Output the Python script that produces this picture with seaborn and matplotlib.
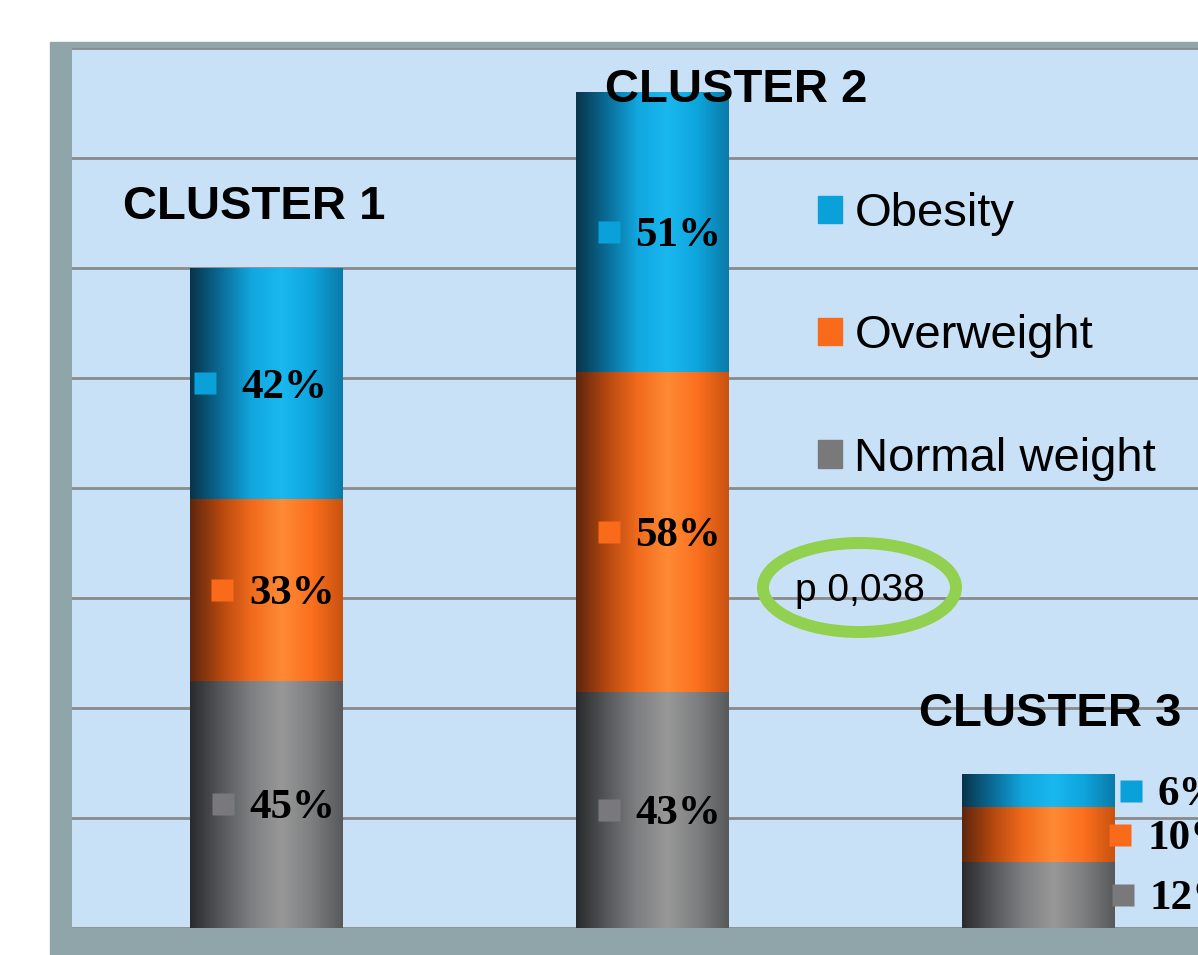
import numpy as np
import seaborn as sns
import matplotlib.pyplot as plt
from matplotlib.colors import LinearSegmentedColormap
from matplotlib.patches import Patch, Ellipse, Rectangle
from matplotlib.transforms import offset_copy

clusters = ["CLUSTER 1", "CLUSTER 2", "CLUSTER 3"]
categories = ["Normal weight", "Overweight", "Obesity"]
normal = [45, 43, 12]
overweight = [33, 58, 10]
obesity = [42, 51, 6]
p_text = "p 0,038"

solid = {"Obesity": "#0AA0DA", "Overweight": "#F96A1B", "Normal weight": "#79797B"}
ramps = {
    "Obesity": ["#08344A", "#0A6C97", "#11A6DE", "#1AB8F0", "#0EA4DC", "#0A7AA8"],
    "Overweight": ["#5E260E", "#B4480F", "#F06A1C", "#FF8A35", "#FB6F1E", "#C8520F"],
    "Normal weight": ["#2A2A2C", "#55575A", "#7E7F81", "#989898", "#7D7E80", "#58595B"],
}

sns.set_style("white")
plt.rcParams["text.color"] = "black"
fig = plt.figure(figsize=(11.98, 9.55), dpi=100)
fig.patch.set_facecolor("white")
W, H = 1198, 955
fig.add_artist(Rectangle((50 / W, 0), 1 - 50 / W, (H - 42) / H, transform=fig.transFigure,
                         color="#90A5AA", zorder=0))
ax = fig.add_axes([72 / W, (H - 928) / H, (W - 72) / W, (928 - 48) / H])
ax.set_facecolor("#C8E1F6")

# stacked bars: draw cumulative totals, tallest first
layers = [("Obesity", np.array(normal) + np.array(overweight) + np.array(obesity)),
          ("Overweight", np.array(normal) + np.array(overweight)),
          ("Normal weight", np.array(normal))]
grad = np.linspace(0, 1, 256).reshape(1, -1)
z = 2
for name, tops in layers:
    n0 = len(ax.patches)
    sns.barplot(x=clusters, y=tops, color=solid[name], width=0.396, saturation=1,
                errorbar=None, ax=ax, zorder=z, linewidth=0, edgecolor="none")
    cmap = LinearSegmentedColormap.from_list(name, ramps[name])
    for p in ax.patches[n0:]:
        x0, w, h = p.get_x(), p.get_width(), p.get_height()
        im = ax.imshow(grad, extent=(x0, x0 + w, 0, h), aspect="auto", cmap=cmap,
                       zorder=z + 0.5, interpolation="bilinear")
        im.set_clip_path(p)
    z += 1

ax.set_xlim(-0.504, 2.413)
ax.set_ylim(0, 160)
ax.set_yticks(range(0, 161, 20))
ax.yaxis.grid(True, color="#8A8A8A", lw=2)
ax.set_axisbelow(True)
ax.tick_params(length=0, labelleft=False, labelbottom=False)
ax.set_xlabel("")
ax.set_ylabel("")
sns.despine(ax=ax, left=True, bottom=True)

# data labels: (marker dx, text dx) in pixels from bar centre
offsets = {
    (0, "Obesity"): (-62, -25), (0, "Overweight"): (-45, -17), (0, "Normal weight"): (-44, -17),
    (1, "Obesity"): (-44, -17), (1, "Overweight"): (-44, -17), (1, "Normal weight"): (-44, -17),
    (2, "Obesity"): (92, 119), (2, "Overweight"): (81, 109), (2, "Normal weight"): (84, 111),
}
series = {"Normal weight": normal, "Overweight": overweight, "Obesity": obesity}
for i in range(len(clusters)):
    bottom = 0
    for name in categories:
        v = series[name][i]
        yc = bottom + v / 2
        bottom += v
        mdx, tdx = offsets[(i, name)]
        tr = offset_copy(ax.transData, fig=fig, x=mdx, y=0, units="dots")
        ax.plot([i], [yc], marker="s", ms=15.5, color=solid[name], mec="none",
                transform=tr, zorder=10)
        ax.annotate(f"{v}%", xy=(i, yc), xytext=(tdx, -4), textcoords="offset pixels",
                    ha="left", va="center", fontsize=31, fontweight="bold",
                    family="Liberation Serif", color="black", zorder=11,
                    annotation_clip=False)

totals = layers[0][1]
title_off = [(-12, 61), (84, 2), (12, 60)]
for i, name in enumerate(clusters):
    ax.annotate(name, xy=(i, totals[i]), xytext=title_off[i], textcoords="offset pixels",
                ha="center", va="center", fontsize=34, fontweight="bold",
                family="Liberation Sans", color="black", zorder=12, annotation_clip=False)

handles = [Patch(color=solid[c]) for c in ["Obesity", "Overweight", "Normal weight"]]
fig.legend(handles, ["Obesity", "Overweight", "Normal weight"], loc="upper left",
           bbox_to_anchor=(818 / W, 1 - 192 / H), frameon=False, borderpad=0,
           borderaxespad=0, handlelength=0.51, handleheight=0.51, handletextpad=0.26,
           labelspacing=1.66, prop={"family": "Liberation Sans", "size": 34},
           labelcolor="black")

fig.add_artist(Ellipse((859.5 / W, 1 - 587.5 / H), 193 / W, 89 / H, transform=fig.transFigure,
                       fill=False, edgecolor="#92D050", lw=8.6, zorder=5))
fig.text(859.5 / W, 1 - 591 / H, p_text, ha="center", va="center", fontsize=28,
         family="Liberation Sans", color="black", zorder=6)

fig.savefig("out.png", dpi=100)
